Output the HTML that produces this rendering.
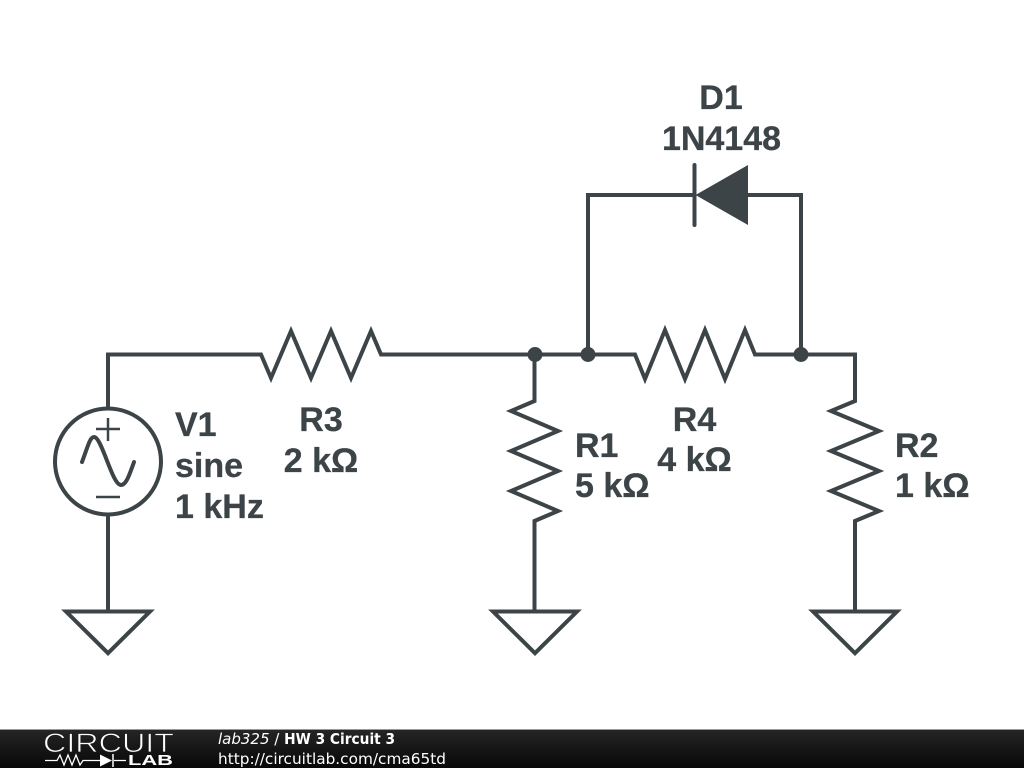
<!DOCTYPE html>
<html><head><meta charset="utf-8"><style>
html,body{margin:0;padding:0;background:#fff;width:1024px;height:768px;overflow:hidden}
svg{display:block}
.l{font-family:"Liberation Sans",Arial,sans-serif;font-weight:bold;font-size:34px;fill:#3c4448;stroke:#3c4448;stroke-width:0.3}
.f{font-family:"DejaVu Sans",sans-serif;font-size:15px;fill:#fff}
</style></head><body>
<svg width="1024" height="768" viewBox="0 0 1024 768" xmlns="http://www.w3.org/2000/svg">
<defs><linearGradient id="g" x1="0" y1="0" x2="0" y2="1"><stop offset="0" stop-color="#262626"/><stop offset="0.5" stop-color="#161616"/><stop offset="1" stop-color="#080808"/></linearGradient></defs>
<rect width="1024" height="768" fill="#fff"/>
<g fill="none" stroke="#3c4448" stroke-width="4" stroke-linejoin="miter" stroke-linecap="square">
<path d="M108 408V354.5H261L271 378L291 331L311 378L331 331L351 378L371 331L381 354.5H635L645 379L665 330L685 379L705 330L725 379L745 330L755 354.5H855V401L831 411L879 431L831 451L879 471L831 491L879 511L855 521V610"/>
<path d="M534.500 354.500V401L511 411L558 431L511 451L558 471L511 491L558 511L534.500 521V610"/>
<path d="M588 354.500V195H694M748 195H801V354.500"/>
<path d="M108 515V610"/>
<path d="M66 611.500H150L108 653.200Z"/>
<path d="M493 611.500H577L535 653.200Z"/>
<path d="M813 611.500H897L855 653.200Z"/>
<circle cx="108" cy="461.500" r="53"/>
<path d="M694.500 165V225" stroke-linecap="round"/>
<path d="M82 462C88 446 90 437 94 437C102 437 112 485 121 485C126 485 129 476 134 462" stroke-width="4" stroke-linecap="round"/>
<path d="M96 429H120M108 418V441M96 497H120" stroke-width="2.500" stroke-linecap="butt"/>
</g>
<path d="M695.500 195L748 165V225Z" fill="#3c4448"/>
<circle cx="535" cy="354.500" r="7.500" fill="#3c4448"/>
<circle cx="588" cy="354.500" r="7.500" fill="#3c4448"/>
<circle cx="801" cy="354.500" r="7.500" fill="#3c4448"/>
<text class="l" x="721" y="109" text-anchor="middle">D1</text>
<text class="l" x="721.500" y="150" text-anchor="middle">1N4148</text>
<text class="l" x="175" y="436">V1</text>
<text class="l" x="175" y="477">sine</text>
<text class="l" x="175" y="518">1 kHz</text>
<text class="l" x="321" y="431" text-anchor="middle">R3</text>
<text class="l" x="321" y="472" text-anchor="middle">2 kΩ</text>
<text class="l" x="575" y="457">R1</text>
<text class="l" x="575" y="497">5 kΩ</text>
<text class="l" x="694.500" y="431" text-anchor="middle">R4</text>
<text class="l" x="694.500" y="471" text-anchor="middle">4 kΩ</text>
<text class="l" x="895" y="457">R2</text>
<text class="l" x="895" y="497">1 kΩ</text>
<rect x="0" y="729" width="1024" height="39" fill="url(#g)"/>
<rect x="0" y="729" width="1024" height="1" fill="#999"/>
<text x="43" y="752" font-family="'Liberation Sans',sans-serif" font-size="27" fill="#fff" stroke="#1c1c1c" stroke-width="0.8" textLength="131" lengthAdjust="spacingAndGlyphs">CIRCUIT</text>
<path d="M45 760.500H57L60 755L64 765L68 755L72 765L76 755L80 765L83 760.500H100M114 760.500H126" fill="none" stroke="#fff" stroke-width="1.300"/>
<path d="M100 754.500L112 760.500L100 766.500Z" fill="#fff"/>
<path d="M113 754V767" stroke="#fff" stroke-width="1.500"/>
<text x="128" y="765" font-family="'Liberation Sans',sans-serif" font-weight="bold" font-size="15" fill="#fff" textLength="45" lengthAdjust="spacingAndGlyphs">LAB</text>
<text class="f" x="218" y="744"><tspan font-style="italic">lab325</tspan> / <tspan font-weight="bold" textLength="111" lengthAdjust="spacingAndGlyphs">HW 3 Circuit 3</tspan></text>
<text class="f" x="218" y="764" textLength="228" lengthAdjust="spacingAndGlyphs">http://circuitlab.com/cma65td</text>
</svg>
</body></html>
